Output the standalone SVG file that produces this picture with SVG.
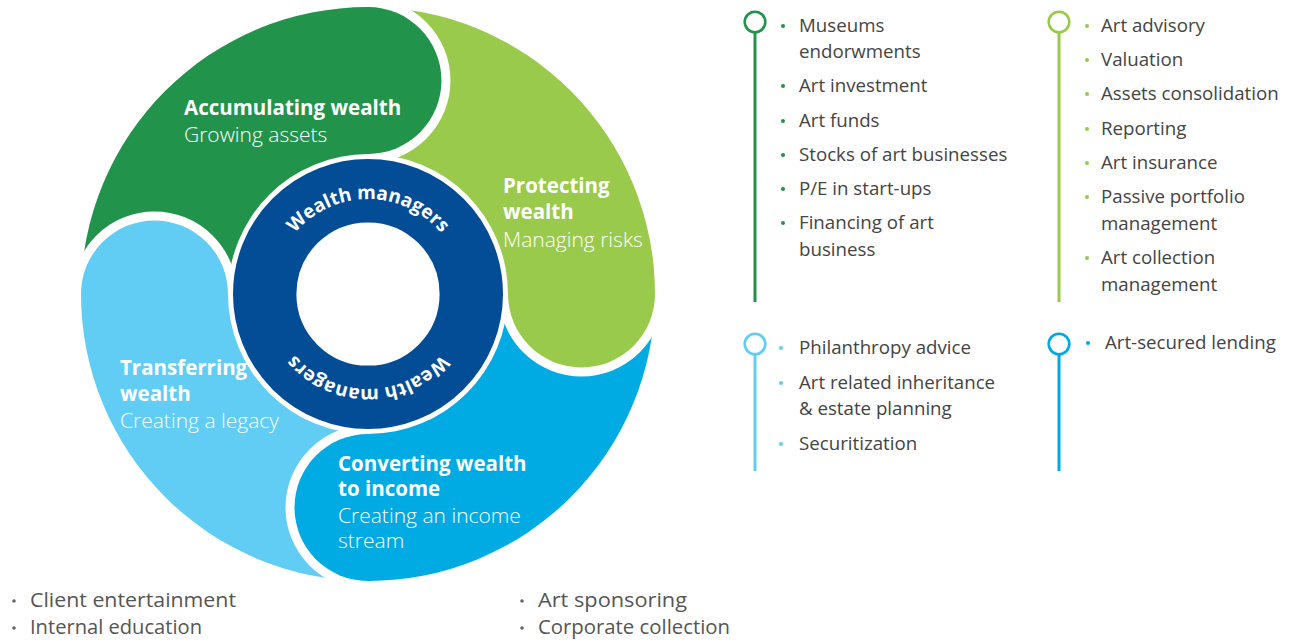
<svg xmlns="http://www.w3.org/2000/svg" xmlns:xlink="http://www.w3.org/1999/xlink" width="1298" height="641" viewBox="0 0 1298 641">
<defs>
<style>
.seg-t{font-family:"Open Sans","Liberation Sans",sans-serif;font-size:20.5px;font-weight:bold;fill:#fff}
.seg-s{font-family:"Open Sans","Liberation Sans",sans-serif;font-size:21px;font-weight:300;fill:#fff}
.ring-t{font-family:"Open Sans","Liberation Sans",sans-serif;font-size:19px;font-weight:bold;fill:#fff}
.li{font-family:"Open Sans","Liberation Sans",sans-serif;font-size:18.7px;font-weight:400;fill:#444}
.bt{font-family:"Open Sans","Liberation Sans",sans-serif;font-size:20px;fill:#555}
.gap{fill:none;stroke:#fff;stroke-width:18}
.mk{fill:#fff;stroke-width:2.6}
.vl{stroke-width:3}
</style>
<path id="ringTop" d="M 273 294 A 95 95 0 0 1 463 294"/>
<path id="ringBot" d="M 463 294 A 95 95 0 0 1 273 294"/>
</defs>
<rect width="1298" height="641" fill="#fff"/>

<g id="wheel">
<g id="sectors">
<path id="seg-green" d="M 81 294 A 287 287 0 0 1 368 7 L 368 154 A 140 140 0 0 0 228 294 Z" fill="#22934A"/>
<path id="seg-lightgreen" d="M 368 7 A 287 287 0 0 1 655 294 L 508 294 A 140 140 0 0 0 368 154 Z" fill="#9ACA4B"/>
<path id="seg-blue" d="M 655 294 A 287 287 0 0 1 368 581 L 368 434 A 140 140 0 0 0 508 294 Z" fill="#00AAE3"/>
<path id="seg-lightblue" d="M 368 581 A 287 287 0 0 1 81 294 L 228 294 A 140 140 0 0 0 368 434 Z" fill="#62CDF4"/>
</g>
<g id="gaps">
<path class="gap" d="M 368 7 A 73.5 73.5 0 0 1 368 154"/>
<path class="gap" d="M 655 294 A 73.5 73.5 0 0 1 508 294"/>
<path class="gap" d="M 368 581 A 73.5 73.5 0 0 1 368 434"/>
<path class="gap" d="M 81 294 A 73.5 73.5 0 0 1 228 294"/>
</g>
<g id="lobes">
<path d="M 368 7 A 73.5 73.5 0 0 1 368 154 Z" fill="#22934A"/>
<path d="M 655 294 A 73.5 73.5 0 0 1 508 294 Z" fill="#9ACA4B"/>
<path d="M 368 581 A 73.5 73.5 0 0 1 368 434 Z" fill="#00AAE3"/>
<path d="M 81 294 A 73.5 73.5 0 0 1 228 294 Z" fill="#62CDF4"/>
</g>
<g id="node-ring">
<circle cx="368" cy="294" r="137.5" fill="#fff"/>
<circle cx="368" cy="294" r="103.3" fill="none" stroke="#034D96" stroke-width="63.4"/>
<text class="ring-t"><textPath xlink:href="#ringTop" href="#ringTop" startOffset="50%" text-anchor="middle">Wealth managers</textPath></text>
<text class="ring-t"><textPath xlink:href="#ringBot" href="#ringBot" startOffset="50%" text-anchor="middle">Wealth managers</textPath></text>
</g>
<g id="node-accumulating">
<text class="seg-t" x="184" y="115">Accumulating wealth</text>
<text class="seg-s" x="184" y="142">Growing assets</text>
</g>
<g id="node-protecting">
<text class="seg-t" x="503" y="193">Protecting</text>
<text class="seg-t" x="503" y="219">wealth</text>
<text class="seg-s" x="503" y="247">Managing risks</text>
</g>
<g id="node-converting">
<text class="seg-t" x="338" y="471">Converting wealth</text>
<text class="seg-t" x="338" y="496">to income</text>
<text class="seg-s" x="338" y="523">Creating an income</text>
<text class="seg-s" x="338" y="548">stream</text>
</g>
<g id="node-transferring">
<text class="seg-t" x="120" y="375">Transferring</text>
<text class="seg-t" x="120" y="401">wealth</text>
<text class="seg-s" x="120" y="428">Creating a legacy</text>
</g>
</g>

<g id="connectors">
<line class="vl" x1="755" y1="32" x2="755" y2="302" stroke="#22934A"/>
<line class="vl" x1="1059" y1="32" x2="1059" y2="302" stroke="#9ACA4B"/>
<line class="vl" x1="755" y1="354" x2="755" y2="471" stroke="#62CDF4"/>
<line class="vl" x1="1059" y1="354" x2="1059" y2="471" stroke="#00AAE3"/>
</g>

<g id="list-accumulating">
<circle class="mk" cx="755" cy="22" r="10.3" stroke="#22934A"/>
<g fill="#22934A">
<circle cx="783" cy="26" r="2"/><circle cx="783" cy="86" r="2"/><circle cx="783" cy="121" r="2"/>
<circle cx="783" cy="155" r="2"/><circle cx="783" cy="189" r="2"/><circle cx="783" cy="223" r="2"/>
</g>
<text class="li" x="799" y="32">Museums</text>
<text class="li" x="799" y="58">endorwments</text>
<text class="li" x="799" y="92">Art investment</text>
<text class="li" x="799" y="127">Art funds</text>
<text class="li" x="799" y="161">Stocks of art businesses</text>
<text class="li" x="799" y="195">P/E in start-ups</text>
<text class="li" x="799" y="229">Financing of art</text>
<text class="li" x="799" y="256">business</text>
</g>

<g id="list-protecting">
<circle class="mk" cx="1059" cy="22" r="10.3" stroke="#9ACA4B"/>
<g fill="#9ACA4B">
<circle cx="1087" cy="26" r="2"/><circle cx="1087" cy="60" r="2"/><circle cx="1087" cy="94" r="2"/>
<circle cx="1087" cy="129" r="2"/><circle cx="1087" cy="163" r="2"/><circle cx="1087" cy="197" r="2"/>
<circle cx="1087" cy="258" r="2"/>
</g>
<text class="li" x="1101" y="32">Art advisory</text>
<text class="li" x="1101" y="66">Valuation</text>
<text class="li" x="1101" y="100">Assets consolidation</text>
<text class="li" x="1101" y="135">Reporting</text>
<text class="li" x="1101" y="169">Art insurance</text>
<text class="li" x="1101" y="203">Passive portfolio</text>
<text class="li" x="1101" y="230">management</text>
<text class="li" x="1101" y="264">Art collection</text>
<text class="li" x="1101" y="291">management</text>
</g>

<g id="list-transferring">
<circle class="mk" cx="755" cy="344" r="10.3" stroke="#62CDF4"/>
<g fill="#62CDF4">
<circle cx="781" cy="348" r="2"/><circle cx="781" cy="383" r="2"/><circle cx="781" cy="444" r="2"/>
</g>
<text class="li" x="799" y="354">Philanthropy advice</text>
<text class="li" x="799" y="389">Art related inheritance</text>
<text class="li" x="799" y="415">&amp; estate planning</text>
<text class="li" x="799" y="450">Securitization</text>
</g>

<g id="list-converting">
<circle class="mk" cx="1059" cy="344" r="10.3" stroke="#00AAE3"/>
<circle cx="1088" cy="343" r="2" fill="#00AAE3"/>
<text class="li" x="1105" y="349">Art-secured lending</text>
</g>

<g id="list-bottom-left">
<g fill="#666"><circle cx="14" cy="601" r="1.8"/><circle cx="14" cy="628" r="1.8"/></g>
<text class="bt" x="30" y="607" textLength="206" lengthAdjust="spacingAndGlyphs">Client entertainment</text>
<text class="bt" x="30" y="634" textLength="172" lengthAdjust="spacingAndGlyphs">Internal education</text>
</g>
<g id="list-bottom-right">
<g fill="#666"><circle cx="522" cy="601" r="1.8"/><circle cx="522" cy="628" r="1.8"/></g>
<text class="bt" x="538" y="607" textLength="149" lengthAdjust="spacingAndGlyphs">Art sponsoring</text>
<text class="bt" x="538" y="634" textLength="192" lengthAdjust="spacingAndGlyphs">Corporate collection</text>
</g>
</svg>
